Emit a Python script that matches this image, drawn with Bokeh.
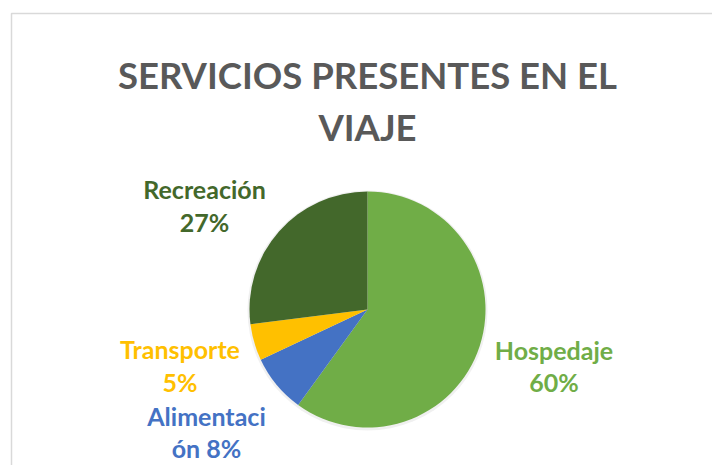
import math
from bokeh.plotting import figure
from bokeh.models import ColumnDataSource, Range1d
from bokeh.core.properties import value
from bokeh.embed import file_html
from bokeh.resources import INLINE

# ---- data ----
title_lines = ["SERVICIOS PRESENTES EN EL", "VIAJE"]
categories = ["Hospedaje", "Alimentación", "Transporte", "Recreación"]
percent = [60, 8, 5, 27]
colors = ["#70AD47", "#4472C4", "#FFC000", "#43682B"]
label_line1 = ["Hospedaje", "Alimentaci", "Transporte", "Recreación"]
label_line2 = ["60%", "ón 8%", "5%", "27%"]

W, H = 712, 465
FONT = "Lato"

p = figure(width=W, height=H, output_backend="svg", toolbar_location=None,
           x_range=Range1d(0, W), y_range=Range1d(0, H), min_border=0,
           background_fill_color="white", border_fill_color="white")
p.axis.visible = False
p.grid.visible = False
p.outline_line_color = None

def px(x):
    return x

def py(y):
    return H - y

# chart area border (light gray, top and left edges visible)
p.line([px(11), px(11), px(W)], [py(H), py(13), py(13)], line_color="#D9D9D9", line_width=1.5)

# pie
total = sum(percent)
starts, ends = [], []
cum = 0
for v in percent:
    starts.append(math.pi / 2 - cum / total * 2 * math.pi)
    cum += v
    ends.append(math.pi / 2 - cum / total * 2 * math.pi)

cx, cy, r = px(367), py(309), 118
src = ColumnDataSource(dict(start=starts, end=ends, color=colors, cat=categories))
# soft shadow
p.circle(x=cx, y=cy - 1, radius=r + 2, fill_color="#000000", fill_alpha=0.06, line_color=None)
p.wedge(x=cx, y=cy, radius=r, start_angle="start", end_angle="end", direction="clock",
        fill_color="color", line_color=None, source=src)

# title
p.text(x=[px(367)] * 2, y=[py(74), py(126.5)], text=title_lines,
       text_font=value(FONT), text_font_style="bold", text_font_size="36.5px",
       text_color="#595959", text_align="center", text_baseline="alphabetic")

# labels
lx = [553.5, 206, 179.5, 204]
ly1 = [349, 415, 348, 188]
ly2 = [381.7, 447.7, 381.7, 221.7]
lsrc = ColumnDataSource(dict(x=[px(v) for v in lx], y1=[py(v) for v in ly1], y2=[py(v) for v in ly2],
                             t1=label_line1, t2=label_line2, color=colors))
for yk, tk in (("y1", "t1"), ("y2", "t2")):
    p.text(x="x", y=yk, text=tk, source=lsrc, text_font=value(FONT), text_font_style="bold",
           text_font_size="25px", text_color="color", text_align="center",
           text_baseline="alphabetic")

open("out.html", "w").write(file_html(p, INLINE))
